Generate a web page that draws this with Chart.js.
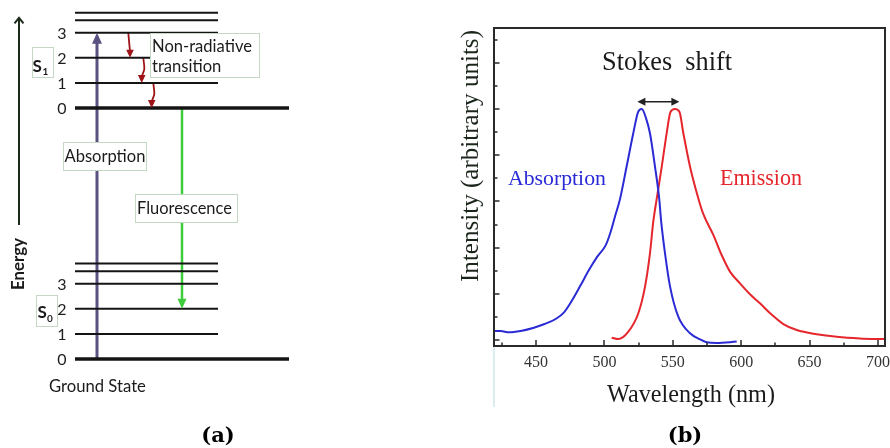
<!DOCTYPE html>
<html><head><meta charset="utf-8">
<script src="https://cdn.jsdelivr.net/npm/chart.js@4/dist/chart.umd.min.js"></script>
<style>
html,body{margin:0;padding:0;background:#fff;width:890px;height:448px;overflow:hidden}
canvas{position:absolute;top:0}
#cA{left:0}
#cB{left:445px}
</style></head><body>
<canvas id="cA" width="445" height="448"></canvas>
<canvas id="cB" width="445" height="448"></canvas>
<script>
// ===== Panel (a): Jablonski diagram data =====
const vibLevels = [0, 1, 2, 3, 3.5, 3.8];      // vibrational levels of each electronic state
const labeledLevels = [0, 1, 2, 3];
const s1Offset = 10;                            // S1 v=0 relative to S0 v=0
const nonRadiativeSteps = [[3, 2], [2, 1], [1, 0]];
const absorptionLevels = [0, 3];                // S0 v0 -> S1 v3
const fluorescenceLevels = [0, 2];              // S1 v0 -> S0 v2
const energyAxisRange = [5.34, 13.59];

// ===== Panel (b): spectra data =====
const absWavelength = [419.3, 424.2, 430.3, 438.8, 448.5, 455.8, 464.4, 470.5, 476.5, 482.7, 488.7, 494.8, 501.0, 504.6, 507.7, 511.4, 516.2, 521.1, 524.6, 527.3, 530.4, 533.3, 537.0, 540.1, 541.4, 544.3, 548.0, 554.0, 562.6, 569.9, 574.8, 582.1, 596.7];
const absIntensity  = [0.039, 0.039, 0.033, 0.039, 0.053, 0.068, 0.091, 0.120, 0.173, 0.238, 0.303, 0.361, 0.411, 0.469, 0.534, 0.610, 0.750, 0.895, 0.987, 1.000, 0.961, 0.895, 0.750, 0.610, 0.519, 0.375, 0.231, 0.101, 0.029, 0.003, -0.010, -0.013, -0.007];
const emWavelength = [505.3, 510.2, 517.5, 524.8, 529.7, 533.3, 535.7, 538.2, 541.9, 545.5, 548.3, 551.6, 554.9, 557.7, 562.6, 568.4, 572.1, 579.6, 585.7, 591.8, 599.1, 606.4, 613.7, 621.1, 630.8, 640.6, 655.2, 669.8, 686.8, 705.1];
const emIntensity  = [0.010, 0.004, 0.036, 0.116, 0.231, 0.375, 0.511, 0.610, 0.750, 0.895, 0.987, 1.000, 0.987, 0.895, 0.750, 0.618, 0.548, 0.455, 0.368, 0.296, 0.245, 0.198, 0.159, 0.116, 0.069, 0.043, 0.025, 0.014, 0.007, 0.004];
const xTickLabels = [450, 500, 550, 600, 650, 700];
const xMinorTicks = [425, 475, 525, 575, 625, 675];
const yTicks = [0, 0.1, 0.2, 0.3, 0.4, 0.5, 0.6, 0.7, 0.8, 0.9, 1.0, 1.1, 1.2, 1.3];

// ===== helpers =====
function fitText(ctx, text, weight, family, targetW) {
  ctx.font = `${weight} 100px ${family}`;
  const w = ctx.measureText(text).width;
  const size = 100 * targetW / w;
  ctx.font = `${weight} ${size.toFixed(2)}px ${family}`;
  return size;
}
function arrowHead(ctx, tx, ty, dx, dy, len, hw, color) {
  const n = Math.hypot(dx, dy); dx /= n; dy /= n;
  const bx = tx + dx * len, by = ty + dy * len;
  ctx.beginPath();
  ctx.moveTo(tx, ty);
  ctx.lineTo(bx - dy * hw, by + dx * hw);
  ctx.lineTo(bx + dy * hw, by - dx * hw);
  ctx.closePath();
  ctx.fillStyle = color; ctx.fill();
}
function box(ctx, x0, y0, x1, y1) {
  ctx.fillStyle = '#ffffff';
  ctx.fillRect(x0, y0, x1 - x0, y1 - y0);
  ctx.strokeStyle = '#c4d8c4'; ctx.lineWidth = 1;
  ctx.strokeRect(x0 + 0.5, y0 + 0.5, x1 - x0 - 1, y1 - y0 - 1);
}

// ===== layout (panel a) =====
const LVL_X0 = 75, LVL_X1 = 218, LVL_X1_ZERO = 289;
const ABS_X = 97, FLU_X = 182, ENERGY_X = 19, LABEL_X = 62;
const NR_X = [[128.3, 130], [143.3, 141.7], [153.3, 151.7]];
const ABS_COLOR = '#5a5280', FLU_COLOR = '#3ccc3c', NR_COLOR = '#9e1418', LVL_COLOR = '#141414';

const dsA = [];
for (const base of [0, s1Offset]) {
  for (const v of vibLevels) {
    dsA.push({ data: [{ x: LVL_X0, y: base + v }, { x: v === 0 ? LVL_X1_ZERO : LVL_X1, y: base + v }],
      borderColor: LVL_COLOR, borderWidth: v === 0 ? 3.5 : 2, pointRadius: 0 });
  }
}
// energy axis
dsA.push({ data: [{ x: ENERGY_X, y: energyAxisRange[0] }, { x: ENERGY_X, y: energyAxisRange[1] }],
  borderColor: '#1c2b1c', borderWidth: 2, pointRadius: 0 });
// absorption
dsA.push({ data: [{ x: ABS_X, y: absorptionLevels[0] }, { x: ABS_X, y: s1Offset + absorptionLevels[1] - 0.3 }],
  borderColor: ABS_COLOR, borderWidth: 3, pointRadius: 0 });
// fluorescence
dsA.push({ data: [{ x: FLU_X, y: s1Offset + fluorescenceLevels[0] }, { x: FLU_X, y: fluorescenceLevels[1] + 0.3 }],
  borderColor: FLU_COLOR, borderWidth: 2.5, pointRadius: 0 });
// non-radiative relaxations
nonRadiativeSteps.forEach(([a, b], i) => {
  const [xs, xe] = NR_X[i];
  dsA.push({ data: [{ x: xs, y: s1Offset + a }, { x: xs + 1.0, y: s1Offset + a - 0.45 }, { x: xe, y: s1Offset + b + 0.26 }],
    borderColor: NR_COLOR, borderWidth: 1.8, pointRadius: 0, tension: 0.25 });
});

const jabPlugin = {
  id: 'jab',
  afterDatasetsDraw(chart) {
    const ctx = chart.ctx, X = chart.scales.x, Y = chart.scales.y;
    const px = v => X.getPixelForValue(v), py = v => Y.getPixelForValue(v);
    ctx.save();
    // arrow heads
    arrowHead(ctx, px(ABS_X), py(s1Offset + absorptionLevels[1]), 0, 1, 11, 5, ABS_COLOR);
    arrowHead(ctx, px(FLU_X), py(fluorescenceLevels[1]), 0, -1, 10, 4.5, FLU_COLOR);
    nonRadiativeSteps.forEach(([a, b], i) => {
      const [, xe] = NR_X[i];
      arrowHead(ctx, px(xe), py(s1Offset + b), 0, -1, 8, 3.8, NR_COLOR);
    });
    // energy open arrow head
    const ex = px(ENERGY_X), ey = py(energyAxisRange[1]);
    ctx.strokeStyle = '#1c2b1c'; ctx.lineWidth = 2;
    ctx.beginPath(); ctx.moveTo(ex - 4.5, ey + 5.5); ctx.lineTo(ex, ey); ctx.lineTo(ex + 4.5, ey + 5.5); ctx.stroke();
    // level numbers
    ctx.fillStyle = '#1e1e1e'; ctx.font = '16px Lato'; ctx.textAlign = 'center'; ctx.textBaseline = 'middle';
    for (const base of [0, s1Offset]) for (const v of labeledLevels) ctx.fillText(String(v), px(LABEL_X), py(base + v) + 1);
    // boxes
    box(ctx, 32, 47, 54, 78);
    box(ctx, 36, 295, 58, 327);
    box(ctx, 63, 142, 147, 171);
    box(ctx, 150, 33, 260, 78);
    box(ctx, 135, 194, 238, 223);
    ctx.fillStyle = '#1b1b1b'; ctx.textAlign = 'left'; ctx.textBaseline = 'alphabetic';
    ctx.font = 'bold 17px Lato'; ctx.fillText('S', 32.5, 72);
    ctx.font = 'bold 10px Lato'; ctx.fillText('1', 42.5, 74.5);
    ctx.font = 'bold 17px Lato'; ctx.fillText('S', 37.5, 317.5);
    ctx.font = 'bold 10px Lato'; ctx.fillText('0', 47, 321.5);
    ctx.textBaseline = 'middle';
    fitText(ctx, 'Absorption', 'normal', 'Lato', 81); ctx.fillText('Absorption', 64.5, 157);
    fitText(ctx, 'Non-radiative', 'normal', 'Lato', 100); ctx.fillText('Non-radiative', 152, 47); ctx.fillText('transition', 152, 67);
    fitText(ctx, 'Fluorescence', 'normal', 'Lato', 95); ctx.fillText('Fluorescence', 137, 209);
    fitText(ctx, 'Ground State', 'normal', 'Lato', 97); ctx.fillText('Ground State', 49, 387);
    // Energy (rotated)
    ctx.save(); ctx.translate(px(ENERGY_X), 264); ctx.rotate(-Math.PI / 2);
    ctx.textAlign = 'center'; fitText(ctx, 'Energy', 'bold', 'Lato', 52); ctx.fillText('Energy', 0, 0);
    ctx.restore();
    // panel label
    ctx.textAlign = 'center'; ctx.textBaseline = 'alphabetic'; ctx.fillStyle = '#000';
    ctx.font = 'bold 21px "DejaVu Serif"'; ctx.fillText('(a)', 218, 442);
    ctx.restore();
  }
};

new Chart(document.getElementById('cA'), {
  type: 'line',
  data: { datasets: dsA },
  options: {
    responsive: false, animation: false, devicePixelRatio: 1,
    layout: { padding: 0 },
    plugins: { legend: { display: false }, tooltip: { enabled: false } },
    elements: { line: { borderCapStyle: 'butt' } },
    scales: {
      x: { type: 'linear', display: false, min: 0, max: 445 },
      y: { type: 'linear', display: false, min: -3.546, max: 14.303 }
    }
  },
  plugins: [jabPlugin]
});

// ===== Panel (b) =====
const BLUE = '#2b2bd6', RED = '#e5262c', SERIF = '"Liberation Serif"';
const peakOf = (xs, ys) => xs[ys.indexOf(Math.max(...ys))];

const specPlugin = {
  id: 'spec',
  afterDatasetsDraw(chart) {
    const ctx = chart.ctx, a = chart.chartArea, X = chart.scales.x, Y = chart.scales.y;
    const px = v => X.getPixelForValue(v), py = v => Y.getPixelForValue(v);
    ctx.save();
    // light line below left frame
    ctx.strokeStyle = '#cfe6ec'; ctx.lineWidth = 1.5;
    ctx.beginPath(); ctx.moveTo(a.left, a.bottom); ctx.lineTo(a.left, a.bottom + 61); ctx.stroke();
    // frame
    ctx.strokeStyle = '#2a2a2a'; ctx.lineWidth = 2;
    ctx.strokeRect(a.left, a.top, a.right - a.left, a.bottom - a.top);
    // ticks
    ctx.lineWidth = 1.5;
    ctx.beginPath();
    for (const t of xTickLabels) { const x = Math.round(px(t)); ctx.moveTo(x, a.bottom); ctx.lineTo(x, a.bottom - 6); }
    for (const t of xMinorTicks) { const x = Math.round(px(t)); ctx.moveTo(x, a.bottom); ctx.lineTo(x, a.bottom - 3.5); }
    yTicks.forEach((t, i) => { const y = Math.round(py(t)); ctx.moveTo(a.left, y); ctx.lineTo(a.left + (i % 2 === 0 ? 5.5 : 3.5), y); });
    ctx.stroke();
    // tick labels
    ctx.fillStyle = '#333'; ctx.font = `16px ${SERIF}`; ctx.textAlign = 'center'; ctx.textBaseline = 'alphabetic';
    for (const t of xTickLabels) ctx.fillText(String(t), px(t), a.bottom + 21);
    // axis titles
    ctx.fillStyle = '#1a1a1a';
    fitText(ctx, 'Wavelength (nm)', 'normal', SERIF, 168); ctx.fillText('Wavelength (nm)', 246, 402);
    ctx.save(); ctx.translate(26, 156); ctx.rotate(-Math.PI / 2); ctx.textBaseline = 'middle';
    ctx.fillStyle = '#1b261b';
    fitText(ctx, 'Intensity (arbitrary units)', 'normal', SERIF, 252); ctx.fillText('Intensity (arbitrary units)', 0, 0);
    ctx.restore();
    // annotations
    const aPk = peakOf(absWavelength, absIntensity), ePk = peakOf(emWavelength, emIntensity);
    fitText(ctx, 'Stokes  shift', 'normal', SERIF, 130); ctx.fillText('Stokes  shift', px(545.8), py(1.169));
    const ay = py(1.032), ax0 = px(aPk - 3.2), ax1 = px(ePk + 3.2);
    ctx.strokeStyle = '#222'; ctx.lineWidth = 1.5;
    ctx.beginPath(); ctx.moveTo(ax0 + 5, ay); ctx.lineTo(ax1 - 5, ay); ctx.stroke();
    arrowHead(ctx, ax0, ay, 1, 0, 8, 4, '#222');
    arrowHead(ctx, ax1, ay, -1, 0, 8, 4, '#222');
    ctx.textAlign = 'left';
    ctx.fillStyle = BLUE; fitText(ctx, 'Absorption', 'normal', SERIF, 98); ctx.fillText('Absorption', px(429.5), py(0.671));
    ctx.fillStyle = RED; fitText(ctx, 'Emission', 'normal', SERIF, 82); ctx.fillText('Emission', px(584.5), py(0.671));
    // panel label
    ctx.textAlign = 'center'; ctx.fillStyle = '#000';
    ctx.font = 'bold 21px "DejaVu Serif"'; ctx.fillText('(b)', 240, 442);
    ctx.restore();
  }
};

new Chart(document.getElementById('cB'), {
  type: 'line',
  data: {
    datasets: [
      { label: 'Absorption', data: absWavelength.map((x, i) => ({ x, y: absIntensity[i] })),
        borderColor: BLUE, borderWidth: 2, pointRadius: 0, cubicInterpolationMode: 'monotone' },
      { label: 'Emission', data: emWavelength.map((x, i) => ({ x, y: emIntensity[i] })),
        borderColor: RED, borderWidth: 2, pointRadius: 0, cubicInterpolationMode: 'monotone' }
    ]
  },
  options: {
    responsive: false, animation: false, devicePixelRatio: 1,
    layout: { padding: { left: 49, right: 5, top: 28, bottom: 102 } },
    plugins: { legend: { display: false }, tooltip: { enabled: false } },
    scales: {
      x: { type: 'linear', display: false, min: 419.3, max: 705.1 },
      y: { type: 'linear', display: false, min: -0.026, max: 1.351 }
    }
  },
  plugins: [specPlugin]
});
</script>
</body></html>
